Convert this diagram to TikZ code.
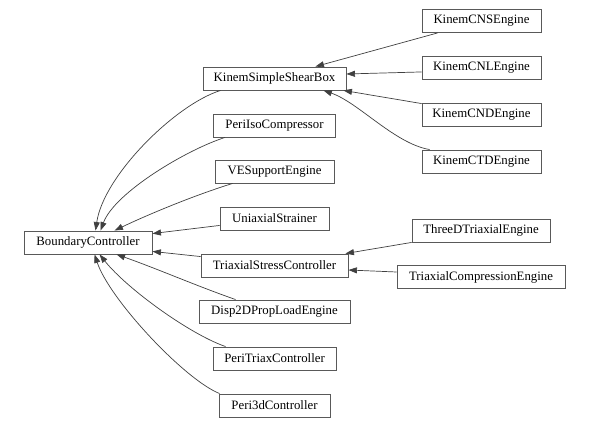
\documentclass[tikz,border=0pt]{standalone}
\usepackage{fontspec}
\setmainfont{Liberation Serif}
\usetikzlibrary{arrows.meta,calc}
\begin{document}
\begin{tikzpicture}[x=1pt,y=-1pt,
  cls/.style={draw=black!65,line width=0.9pt,rectangle,minimum height=23pt,inner sep=0pt,
    font=\fontsize{12.8}{14}\selectfont,text=black,anchor=center},
  edge/.style={draw=black!75,line width=0.7pt,-{Triangle[length=8.5pt,width=6pt]}}]
\useasboundingbox (0,0) rectangle (589,427);
% left rank
\node[cls,minimum width=128pt] (bc) at (88,242.5) {BoundaryController};
% middle rank
\node[cls,minimum width=143pt] (kssb) at (274.5,78.5) {KinemSimpleShearBox};
\node[cls,minimum width=122pt] (pic) at (274.5,125.5) {PeriIsoCompressor};
\node[cls,minimum width=119pt] (ves) at (274.5,171.5) {VESupportEngine};
\node[cls,minimum width=109pt] (uni) at (274.5,218.5) {UniaxialStrainer};
\node[cls,minimum width=147pt] (tsc) at (274.5,265.5) {TriaxialStressController};
\node[cls,minimum width=151pt] (d2d) at (274.5,311.5) {Disp2DPropLoadEngine};
\node[cls,minimum width=123pt] (ptc) at (274.5,358.5) {PeriTriaxController};
\node[cls,minimum width=111pt] (p3d) at (274.5,405.5) {Peri3dController};
% right rank
\node[cls,minimum width=119pt] (cns) at (481.5,21) {KinemCNSEngine};
\node[cls,minimum width=119pt] (cnl) at (481.5,68) {KinemCNLEngine};
\node[cls,minimum width=119pt] (cnd) at (481.5,114.5) {KinemCNDEngine};
\node[cls,minimum width=119pt] (ctd) at (481.5,161.5) {KinemCTDEngine};
\node[cls,minimum width=138pt] (tdt) at (481,230.5) {ThreeDTriaxialEngine};
\node[cls,minimum width=168pt] (tce) at (481,277) {TriaxialCompressionEngine};
% edges to BoundaryController
\draw[edge] ($(kssb.south west)+(18,0)$) .. controls +(-45,14) and +(8,-55) .. ($(bc.north west)+(72,0)$);
\draw[edge] ($(pic.south west)+(12,0)$) .. controls +(-38,12) and +(14,-38) .. ($(bc.north west)+(77,0)$);
\draw[edge] ($(ves.south west)+(18,0)$) .. controls +(-45,14) and +(25,-12) .. ($(bc.north west)+(91,0)$);
\draw[edge] ($(uni.south west)+(0,-5)$) -- ($(bc.north east)+(0,3)$);
\draw[edge] ($(tsc.north west)+(0,3)$) -- ($(bc.south east)+(0,-3)$);
\draw[edge] ($(d2d.north west)+(37,0)$) .. controls +(-40,-14) and +(40,14) .. ($(bc.south west)+(93,0)$);
\draw[edge] ($(ptc.north west)+(13,0)$) .. controls +(-35,-12) and +(28,35) .. ($(bc.south west)+(76,0)$);
\draw[edge] ($(p3d.north west)+(1,0)$) .. controls +(-35,-14) and +(15,45) .. ($(bc.south west)+(71,0)$);
% edges to KinemSimpleShearBox
\draw[edge] ($(cns.south west)+(16,0)$) -- ($(kssb.north east)+(-31,0)$);
\draw[edge] ($(cnl.south west)+(0,-8)$) -- ($(kssb.east)+(0,-4.5)$);
\draw[edge] ($(cnd.north west)+(0,1)$) -- ($(kssb.south east)+(-3,0)$);
\draw[edge] ($(ctd.north west)+(8,0)$) .. controls +(-35,-6) and +(35,12) .. ($(kssb.south east)+(-23,0)$);
% edges to TriaxialStressController
\draw[edge] (tdt.south west) -- ($(tsc.north east)+(-3,0)$);
\draw[edge] ($(tce.west)+(0,-5)$) -- ($(tsc.east)+(0,4.5)$);
\end{tikzpicture}
\end{document}
